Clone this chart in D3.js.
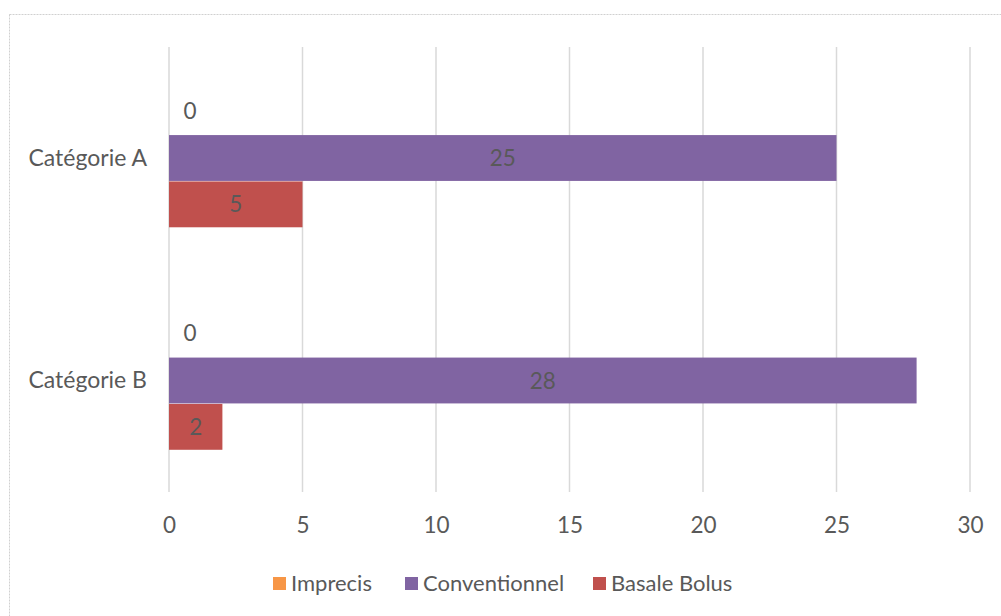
<!DOCTYPE html>
<html><head><meta charset="utf-8">
<script src="https://cdn.jsdelivr.net/npm/d3@7"></script>
<style>
html,body{margin:0;padding:0;background:#fff;}
svg{display:block;}
text{font-family:Lato,"Open Sans",sans-serif;fill:#595959;}
</style></head>
<body>
<svg id="c" width="1001" height="616"></svg>
<script>
const categories = ["Catégorie A", "Catégorie B"];
const seriesNames = ["Imprecis", "Conventionnel", "Basale Bolus"];
const seriesColors = ["#F79646", "#8064A2", "#C0504D"];
const imprecis = [0, 0];
const conventionnel = [25, 28];
const basaleBolus = [5, 2];
const xTicks = [0, 5, 10, 15, 20, 25, 30];

(function () {
const seriesValues = [imprecis, conventionnel, basaleBolus];
const svg = d3.select("#c");
const fs = 22.5;

// outer border
svg.append("rect").attr("x", 9.5).attr("y", 14.5).attr("width", 1010).attr("height", 620)
  .attr("fill", "none").attr("stroke", "#d0d0d0").attr("stroke-width", 1).attr("stroke-dasharray", "2,1");

const pLeft = 169, pRight = 970, pTop = 47, pBottom = 492;
const x = d3.scaleLinear().domain([0, 30]).range([pLeft, pRight]);
const y = d3.scaleBand().domain(categories).range([pTop, pBottom]).paddingInner(0.375).paddingOuter(0.1875);
const ys = d3.scaleBand().domain(seriesNames).range([0, y.bandwidth()]);

// gridlines
svg.append("g").selectAll("line").data(xTicks).join("line")
  .attr("x1", d => x(d)).attr("x2", d => x(d)).attr("y1", pTop).attr("y2", pBottom)
  .attr("stroke", "#d9d9d9").attr("stroke-width", 1.5);

// x axis labels
const xAxis = d3.axisBottom(x).tickValues(xTicks).tickSize(0).tickPadding(0);
const gx = svg.append("g").attr("transform", `translate(0,${pBottom + 25})`).call(xAxis);
gx.select(".domain").remove();
gx.selectAll("text").attr("font-size", fs).attr("font-family", "Lato,'Open Sans',sans-serif").attr("fill", "#595959");

// y axis labels
const yAxis = d3.axisLeft(y).tickSize(0).tickPadding(0);
const gy = svg.append("g").attr("transform", `translate(${pLeft - 22},0)`).call(yAxis);
gy.select(".domain").remove();
gy.selectAll("text").attr("font-size", 23).attr("font-family", "Lato,'Open Sans',sans-serif").attr("fill", "#595959");

// bars
categories.forEach((cat, ci) => {
  const g = svg.append("g").attr("transform", `translate(0,${y(cat)})`);
  seriesNames.forEach((s, si) => {
    const v = seriesValues[si][ci];
    g.append("rect").attr("x", x(0)).attr("y", ys(s)).attr("width", x(v) - x(0)).attr("height", ys.bandwidth() - 0.5)
      .attr("fill", seriesColors[si]);
    const cx = v === 0 ? x(0) + 21 : (x(0) + x(v)) / 2;
    const cy = v === 0 ? ys(s) + ys.bandwidth() / 2 - 1 : ys(s) + ys.bandwidth() / 2;
    g.append("text").attr("x", cx).attr("y", cy).attr("dy", "0.35em").attr("text-anchor", "middle")
      .attr("font-size", fs).attr("fill", "#404040").text(v);
  });
});

// legend
const legendX = [273, 405, 593];
const lg = svg.append("g");
seriesNames.forEach((s, i) => {
  lg.append("rect").attr("x", legendX[i]).attr("y", 577).attr("width", 13).attr("height", 13).attr("fill", seriesColors[i]);
  lg.append("text").attr("x", legendX[i] + 18).attr("y", 583).attr("dy", "0.35em").attr("font-size", 22).text(s);
});
})();
</script>
</body></html>
